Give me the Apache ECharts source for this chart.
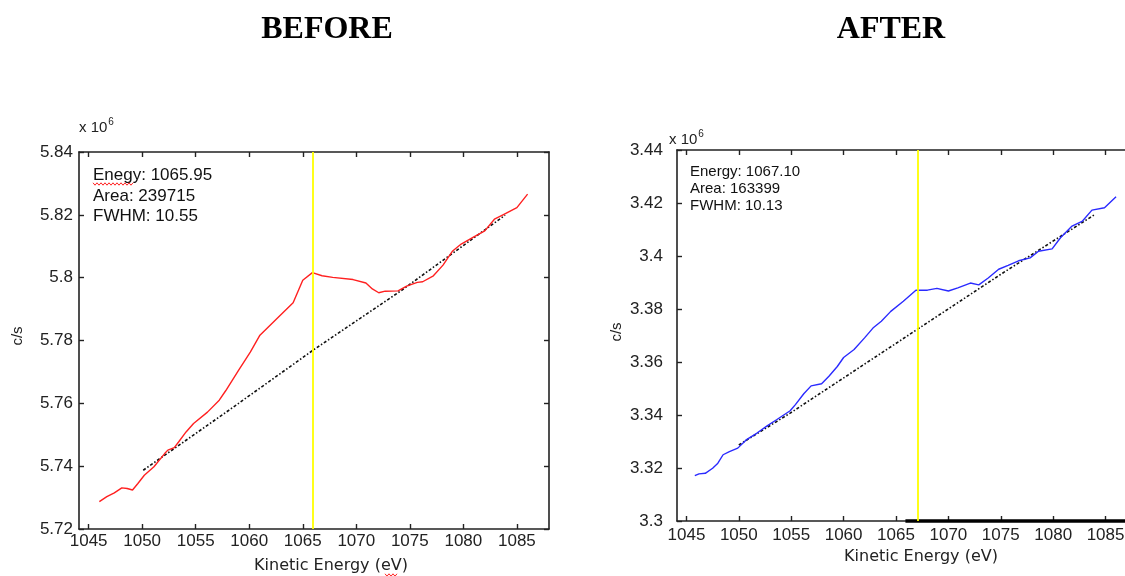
<!DOCTYPE html>
<html>
<head>
<meta charset="utf-8">
<script src="https://cdn.jsdelivr.net/npm/echarts@6/dist/echarts.min.js"></script>
<style>html,body{margin:0;padding:0;background:#fff}#c{width:1125px;height:576px}</style>
</head>
<body>
<div id="c"></div>
<script>
// ---- data (c/s in units of 10^6, energy in eV) ----
const xTicks = [1045, 1050, 1055, 1060, 1065, 1070, 1075, 1080, 1085];

const beforeEnergy = [1046.0, 1046.7, 1047.4, 1048.1, 1048.6, 1049.1, 1049.6, 1050.2, 1051.1, 1052.1, 1052.4, 1053.0, 1053.4, 1054.1, 1054.8, 1056.1, 1057.2, 1057.8, 1059.0, 1060.1, 1061.0, 1062.5, 1064.1, 1065.0, 1065.9, 1066.8, 1067.8, 1069.7, 1070.9, 1071.5, 1072.1, 1072.7, 1073.9, 1074.7, 1075.7, 1076.2, 1077.2, 1078.1, 1079.0, 1079.8, 1080.9, 1082.0, 1082.9, 1083.7, 1085.0, 1086.0];
const beforeCounts = [5.7287, 5.7303, 5.7315, 5.7331, 5.7329, 5.7324, 5.7345, 5.7371, 5.7398, 5.7440, 5.7451, 5.7459, 5.7477, 5.7509, 5.7536, 5.7572, 5.7610, 5.7640, 5.7705, 5.7763, 5.7817, 5.7867, 5.7920, 5.7992, 5.8016, 5.8006, 5.8001, 5.7994, 5.7983, 5.7964, 5.7952, 5.7957, 5.7958, 5.7973, 5.7985, 5.7987, 5.8006, 5.8040, 5.8085, 5.8107, 5.8128, 5.8149, 5.8186, 5.8200, 5.8223, 5.8266];
const beforeBgEnergy = [1050.1, 1058.1, 1066.0, 1074.2, 1083.9];
const beforeBgCounts = [5.7387, 5.7578, 5.7770, 5.7959, 5.8199];
const beforePeak = 1065.95;

const afterEnergy = [1045.8, 1046.2, 1046.8, 1047.5, 1048.0, 1048.5, 1049.1, 1049.9, 1050.7, 1051.7, 1052.7, 1053.6, 1054.9, 1055.4, 1056.2, 1056.9, 1057.9, 1058.6, 1059.4, 1060.0, 1061.0, 1062.0, 1062.8, 1063.6, 1064.5, 1065.7, 1066.9, 1068.0, 1068.9, 1070.0, 1070.9, 1072.1, 1072.9, 1073.8, 1074.8, 1075.7, 1076.7, 1077.8, 1078.6, 1079.9, 1080.7, 1081.8, 1082.8, 1083.7, 1084.9, 1086.0];
const afterCounts = [3.3171, 3.3178, 3.3180, 3.3199, 3.3218, 3.3250, 3.3262, 3.3275, 3.3306, 3.3331, 3.3359, 3.3382, 3.3416, 3.3439, 3.3480, 3.3510, 3.3518, 3.3546, 3.3583, 3.3617, 3.3647, 3.3691, 3.3728, 3.3754, 3.3791, 3.3829, 3.3871, 3.3871, 3.3878, 3.3868, 3.3880, 3.3898, 3.3891, 3.3917, 3.3950, 3.3965, 3.3982, 3.3993, 3.4018, 3.4027, 3.4069, 3.4113, 3.4132, 3.4173, 3.4182, 3.4224];
const afterBgEnergy = [1050.0, 1054.9, 1067.1, 1075.2, 1084.0];
const afterBgCounts = [3.3287, 3.3407, 3.3725, 3.3936, 3.4157];
const afterPeak = 1067.10;

const beforeInfo = ['Enegy: 1065.95', 'Area: 239715', 'FWHM: 10.55'];
const afterInfo = ['Energy: 1067.10', 'Area: 163399', 'FWHM: 10.13'];

// ---- helpers ----
const zip = (a, b) => a.map((v, i) => [v, b[i]]);
const AX = '#222';
const tickFont = {fontFamily: 'Liberation Sans, Arial, sans-serif', fontSize: 17, color: '#222'};

function xAxis(grid, pos, labels, margin) {
  return {
    type: 'value', gridIndex: grid, position: pos, min: 1044.1, max: 1088.0,
    axisLine: {show: true, onZero: false, lineStyle: {color: AX, width: 1.6}},
    axisTick: {show: true, inside: true, length: 5, customValues: xTicks, lineStyle: {color: AX, width: 1.4}},
    axisLabel: Object.assign({show: labels, customValues: xTicks, margin: margin, formatter: v => String(Math.round(v))}, tickFont),
    splitLine: {show: false}
  };
}
function yAxis(grid, pos, labels, min, max, margin) {
  return {
    type: 'value', gridIndex: grid, position: pos, min: min, max: max, interval: 0.02,
    axisLine: {show: true, onZero: false, lineStyle: {color: AX, width: 1.6}},
    axisTick: {show: true, inside: true, length: 5, lineStyle: {color: AX, width: 1.4}},
    axisLabel: Object.assign({show: labels, margin: margin, formatter: v => String(+v.toFixed(2))}, tickFont),
    splitLine: {show: false}
  };
}
function zigzag(x0, x1, y) {
  const pts = [];
  let up = true;
  for (let x = x0; x <= x1; x += 2) { pts.push([x, y + (up ? -1.2 : 1.2)]); up = !up; }
  return {type: 'polyline', shape: {points: pts}, style: {stroke: '#ff2020', lineWidth: 1, fill: null}, silent: true};
}
function txt(x, y, text, font, extra) {
  return {type: 'text', x: x, y: y, silent: true,
    style: Object.assign({text: text, font: font, fill: '#111', textVerticalAlign: 'middle'}, extra || {})};
}

const chart = echarts.init(document.getElementById('c'), null, {renderer: 'canvas'});

const yellowLine = v => ({
  silent: true, symbol: 'none', label: {show: false},
  lineStyle: {color: '#ffff00', width: 1.8, type: 'solid'},
  data: [{xAxis: v}]
});

const option = {
  animation: false,
  backgroundColor: '#fff',
  grid: [
    {left: 79, top: 152, width: 470, height: 377, containLabel: false, outerBoundsMode: 'none'},
    {left: 677, top: 150, width: 460, height: 371, containLabel: false, outerBoundsMode: 'none'}
  ],
  xAxis: [
    xAxis(0, 'bottom', true, 4),
    xAxis(0, 'top', false, 4),
    xAxis(1, 'bottom', true, 6),
    xAxis(1, 'top', false, 4)
  ],
  yAxis: [
    yAxis(0, 'left', true, 5.72, 5.84, 6),
    yAxis(0, 'right', false, 5.72, 5.84, 6),
    yAxis(1, 'left', true, 3.30, 3.44, 14),
    yAxis(1, 'right', false, 3.30, 3.44, 6)
  ],
  series: [
    {type: 'line', xAxisIndex: 0, yAxisIndex: 0, data: zip(beforeBgEnergy, beforeBgCounts), symbol: 'none',
     lineStyle: {color: '#111', width: 1.6, type: [3, 2, 1.5, 2]}, z: 3},
    {type: 'line', xAxisIndex: 0, yAxisIndex: 0, data: zip(beforeEnergy, beforeCounts), symbol: 'none',
     lineStyle: {color: '#ff2020', width: 1.4}, z: 4, markLine: yellowLine(beforePeak)},
    {type: 'line', xAxisIndex: 2, yAxisIndex: 2, data: zip(afterBgEnergy, afterBgCounts), symbol: 'none',
     lineStyle: {color: '#111', width: 1.6, type: [3, 2, 1.5, 2]}, z: 3,
     markLine: {silent: true, symbol: 'none', label: {show: false}, lineStyle: {color: '#000', width: 3.5, type: 'solid'},
       data: [[{coord: [1065.9, 3.3]}, {coord: [1088, 3.3]}]]}},
    {type: 'line', xAxisIndex: 2, yAxisIndex: 2, data: zip(afterEnergy, afterCounts), symbol: 'none',
     lineStyle: {color: '#2a2aff', width: 1.4}, z: 4, markLine: yellowLine(afterPeak)}
  ],
  graphic: [
    txt(327, 30, 'BEFORE', 'bold 32px "Liberation Serif", "Times New Roman", serif', {textAlign: 'center', fill: '#000'}),
    txt(891, 30, 'AFTER', 'bold 32px "Liberation Serif", "Times New Roman", serif', {textAlign: 'center', fill: '#000'}),
    // x 10^6
    {type: 'text', x: 79, y: 126, silent: true, style: {text: '{a|x 10}{b|6}', textVerticalAlign: 'middle', rich: {
      a: {fontFamily: 'Liberation Sans', fontSize: 15, fill: '#222', verticalAlign: 'bottom'},
      b: {fontFamily: 'Liberation Sans', fontSize: 10, fill: '#222', verticalAlign: 'top', padding: [0, 0, 8, 1]}}}},
    {type: 'text', x: 669, y: 138, silent: true, style: {text: '{a|x 10}{b|6}', textVerticalAlign: 'middle', rich: {
      a: {fontFamily: 'Liberation Sans', fontSize: 15, fill: '#222', verticalAlign: 'bottom'},
      b: {fontFamily: 'Liberation Sans', fontSize: 10, fill: '#222', verticalAlign: 'top', padding: [0, 0, 8, 1]}}}},
    // y-axis names
    {type: 'text', x: 18, y: 336, rotation: Math.PI / 2, silent: true,
     style: {text: 'c/s', font: '15px "Liberation Sans", Arial, sans-serif', fill: '#222', textAlign: 'center', textVerticalAlign: 'middle'}},
    {type: 'text', x: 617, y: 332, rotation: Math.PI / 2, silent: true,
     style: {text: 'c/s', font: '15px "Liberation Sans", Arial, sans-serif', fill: '#222', textAlign: 'center', textVerticalAlign: 'middle'}},
    // x-axis names
    txt(331, 566, 'Kinetic Energy (eV)', '16px "DejaVu Sans", sans-serif', {textAlign: 'center', fill: '#222'}),
    txt(921, 557, 'Kinetic Energy (eV)', '16px "DejaVu Sans", sans-serif', {textAlign: 'center', fill: '#222'}),
    // annotations
    txt(93, 175, beforeInfo[0], '17px "Liberation Sans", Arial, sans-serif'),
    txt(93, 196, beforeInfo[1], '17px "Liberation Sans", Arial, sans-serif'),
    txt(93, 216, beforeInfo[2], '17px "Liberation Sans", Arial, sans-serif'),
    txt(690, 172, afterInfo[0], '15px "Liberation Sans", Arial, sans-serif'),
    txt(690, 189, afterInfo[1], '15px "Liberation Sans", Arial, sans-serif'),
    txt(690, 206, afterInfo[2], '15px "Liberation Sans", Arial, sans-serif'),
    zigzag(93, 133, 184),
    zigzag(385, 397, 575)
  ]
};
chart.setOption(option);
</script>
</body>
</html>
